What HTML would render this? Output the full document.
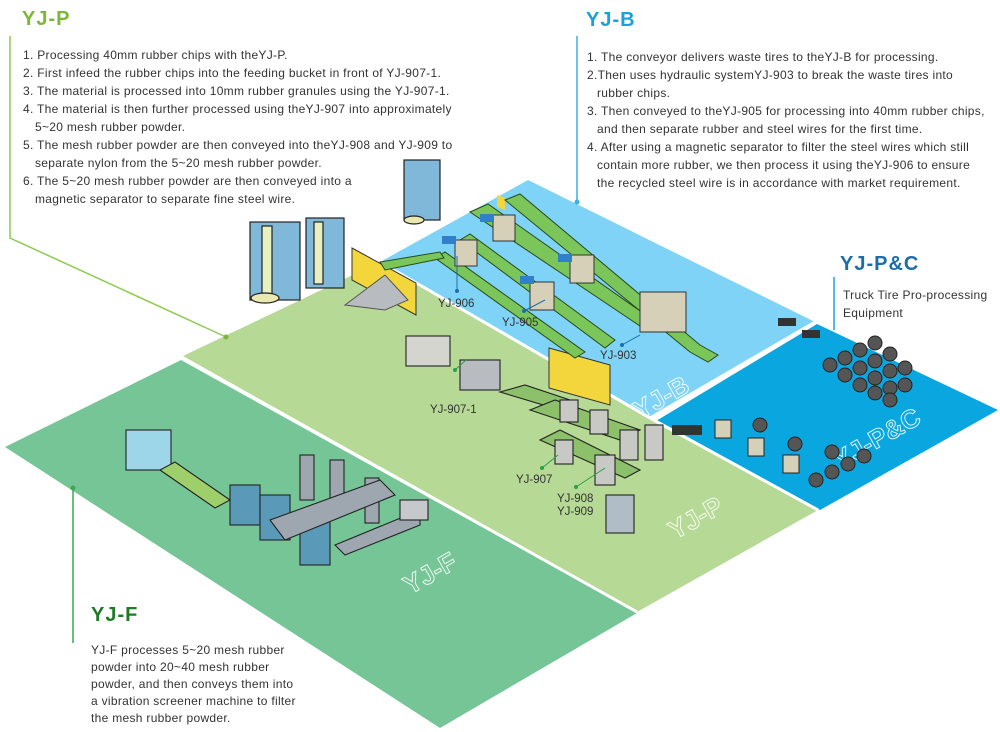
<!DOCTYPE html>
<html><head><meta charset="utf-8"><style>
html,body{margin:0;padding:0;background:#fff;}
svg{display:block;}
.t{font-family:"Liberation Sans",sans-serif;font-size:12px;letter-spacing:0.3px;fill:#333;}
.lb{font-family:"Liberation Sans",sans-serif;font-size:11.5px;fill:#333;}
.h{font-family:"Liberation Sans",sans-serif;font-weight:bold;font-size:20px;letter-spacing:1px;}
.wm{font-family:"Liberation Sans",sans-serif;font-weight:bold;font-size:26px;fill:none;stroke:#fff;stroke-width:1;opacity:.85;}
</style></head><body>
<svg width="1000" height="732" viewBox="0 0 1000 732" xmlns="http://www.w3.org/2000/svg">
<!-- regions -->
<polygon points="5,447 181,360 637,613 440,728" fill="#76c596"/>
<polygon points="183,356 380,262 650,418 818,510 637,612" fill="#b6d995"/>
<polygon points="380,262 528,180 815,322 650,418" fill="#7fd3f6"/>
<polygon points="656,421 817,324 998,410 820,510" fill="#0aa6e0"/>
<polyline points="183,358 637,612" stroke="#fff" stroke-width="3" fill="none"/>
<polyline points="650,418 818,510" stroke="#fff" stroke-width="3" fill="none"/>
<polyline points="380,262 650,418 815,322" stroke="#fff" stroke-width="3" fill="none"/>

<!-- watermarks -->
<text class="wm" transform="translate(640,420) rotate(-30)">YJ-B</text>
<text class="wm" transform="translate(840,470) rotate(-30)">YJ-P&amp;C</text>
<text class="wm" transform="translate(675,540) rotate(-30)">YJ-P</text>
<text class="wm" transform="translate(410,595) rotate(-30)">YJ-F</text>

<!-- connector lines -->
<g fill="none" stroke-width="1.5">
<polyline points="10,36 10,238 226,337" stroke="#8ccb4e"/>
<polyline points="577,36 577,202" stroke="#3bb0e6"/>
<polyline points="834,277 834,330" stroke="#1aa3e0"/>
<polyline points="73,486 73,643" stroke="#3aaa52"/>
</g>
<circle cx="226" cy="337" r="2.5" fill="#7ab836"/>
<circle cx="577" cy="202" r="2.5" fill="#3bb0e6"/>
<circle cx="73" cy="488" r="2.5" fill="#3aaa52"/>

<!-- YJ-P plant left (dust collectors) -->
<g stroke="#222" stroke-width="1.2">
<rect x="250" y="222" width="50" height="78" fill="#7fb8d8"/>
<rect x="306" y="218" width="38" height="70" fill="#7fb8d8"/>
<rect x="404" y="160" width="36" height="60" fill="#7fb8d8"/>
<rect x="262" y="226" width="10" height="70" fill="#e8f0c0"/>
<rect x="314" y="222" width="9" height="62" fill="#e8f0c0"/>
<ellipse cx="265" cy="298" rx="14" ry="5" fill="#e8e8b0"/>
<ellipse cx="414" cy="220" rx="10" ry="4" fill="#e8e8b0"/>
</g>
<!-- yellow walls & cone -->
<polygon points="352,248 416,283 416,315 352,280" fill="#f2d63c" stroke="#333"/>
<polygon points="345,305 385,275 408,300 385,310" fill="#b8bcc0" stroke="#555"/>
<polygon points="549,348 610,365 610,405 549,388" fill="#f2d63c" stroke="#333"/>
<polygon points="497,195 505,198 505,210 497,207" fill="#f2d63c"/>
<!-- YJ-B conveyors -->
<g stroke="#2a4a1a" stroke-width="1">
<polygon points="505,200 520,194 700,345 718,355 708,362 690,352" fill="#7bc65a"/>
<polygon points="460,240 470,234 615,340 605,348" fill="#7bc65a"/>
<polygon points="435,258 445,252 585,352 575,358" fill="#7bc65a"/>
<polygon points="470,212 488,204 650,318 640,326" fill="#7bc65a"/>
<polygon points="380,262 440,252 444,258 385,270" fill="#7bc65a"/>
</g>
<g stroke="#333" stroke-width="1" fill="#d6d0b8">
<rect x="455" y="240" width="22" height="26"/>
<rect x="493" y="215" width="22" height="26"/>
<rect x="530" y="282" width="24" height="28"/>
<rect x="570" y="255" width="24" height="28"/>
<rect x="640" y="292" width="46" height="40"/>
</g>
<g fill="#2f7fcc"><rect x="442" y="236" width="14" height="8"/><rect x="480" y="214" width="14" height="8"/><rect x="520" y="276" width="14" height="8"/><rect x="558" y="254" width="14" height="8"/></g>

<!-- YJ-P machinery -->
<g stroke="#222" stroke-width="1.1">
<rect x="406" y="336" width="44" height="30" fill="#d5d5d0"/>
<rect x="460" y="360" width="40" height="30" fill="#b8bcc0"/>
<polygon points="500,392 525,385 570,400 560,410" fill="#8cc06a"/>
<polygon points="530,410 555,400 640,430 620,440" fill="#8cc06a"/>
<polygon points="540,440 560,430 640,470 625,478" fill="#8cc06a"/>
<rect x="560" y="400" width="18" height="22" fill="#c8c8c4"/>
<rect x="590" y="410" width="18" height="24" fill="#c8c8c4"/>
<rect x="555" y="440" width="18" height="24" fill="#c8c8c4"/>
<rect x="620" y="430" width="18" height="30" fill="#c8c8c4"/>
<rect x="645" y="425" width="18" height="35" fill="#c8c8c4"/>
<rect x="595" y="455" width="20" height="30" fill="#c8c8c4"/>
<rect x="606" y="495" width="28" height="38" fill="#b0bcc6"/>
</g>

<!-- YJ-F machinery -->
<g stroke="#222" stroke-width="1.1">
<rect x="126" y="430" width="45" height="40" fill="#9cd6e8"/>
<polygon points="160,470 175,462 230,500 215,508" fill="#9fcf6a"/>
<rect x="230" y="485" width="30" height="40" fill="#5a9ab8"/>
<rect x="260" y="495" width="30" height="45" fill="#5a9ab8"/>
<rect x="300" y="520" width="30" height="45" fill="#5a9ab8"/>
<rect x="300" y="455" width="14" height="45" fill="#9ea6b0"/>
<rect x="330" y="460" width="14" height="45" fill="#9ea6b0"/>
<rect x="365" y="478" width="14" height="45" fill="#9ea6b0"/>
<polygon points="270,520 380,480 395,495 285,540" fill="#9ea6b0"/>
<polygon points="335,545 420,510 420,525 345,555" fill="#9ea6b0"/>
<rect x="400" y="500" width="28" height="20" fill="#c6c8cc"/>
</g>

<!-- P&C tires -->
<g fill="#555" stroke="#222" stroke-width="1">
<circle cx="830" cy="365" r="7"/><circle cx="845" cy="358" r="7"/><circle cx="860" cy="350" r="7"/><circle cx="875" cy="343" r="7"/>
<circle cx="845" cy="375" r="7"/><circle cx="860" cy="368" r="7"/><circle cx="875" cy="361" r="7"/><circle cx="890" cy="354" r="7"/><circle cx="905" cy="368" r="7"/>
<circle cx="860" cy="385" r="7"/><circle cx="875" cy="378" r="7"/><circle cx="890" cy="371" r="7"/><circle cx="905" cy="385" r="7"/>
<circle cx="875" cy="393" r="7"/><circle cx="890" cy="388" r="7"/><circle cx="890" cy="400" r="7"/>
<circle cx="816" cy="480" r="7"/><circle cx="832" cy="472" r="7"/><circle cx="848" cy="464" r="7"/><circle cx="864" cy="456" r="7"/>
<circle cx="760" cy="425" r="7"/><circle cx="795" cy="444" r="7"/><circle cx="832" cy="452" r="7"/>
</g>
<g fill="#d5d0b8" stroke="#222"><rect x="715" y="420" width="16" height="18"/><rect x="748" y="438" width="16" height="18"/><rect x="783" y="455" width="16" height="18"/></g>
<g fill="#333"><rect x="778" y="318" width="18" height="8"/><rect x="802" y="330" width="18" height="8"/><rect x="672" y="425" width="30" height="10"/></g>

<!-- machine labels -->
<g stroke-width="1" fill="none">
<line x1="457" y1="256" x2="457" y2="291" stroke="#1a6fb0"/>
<line x1="524" y1="311" x2="545" y2="300" stroke="#1a6fb0"/>
<line x1="622" y1="345" x2="640" y2="335" stroke="#1a6fb0"/>
<line x1="455" y1="370" x2="466" y2="360" stroke="#2aa04a"/>
<line x1="542" y1="468" x2="558" y2="455" stroke="#2aa04a"/>
<line x1="576" y1="487" x2="605" y2="468" stroke="#2aa04a"/>
</g>
<g><circle cx="457" cy="291" r="2" fill="#1a6fb0"/><circle cx="524" cy="311" r="2" fill="#1a6fb0"/><circle cx="622" cy="345" r="2" fill="#1a6fb0"/><circle cx="455" cy="370" r="2" fill="#2aa04a"/><circle cx="542" cy="468" r="2" fill="#2aa04a"/><circle cx="576" cy="487" r="2" fill="#2aa04a"/></g>
<text class="lb" x="438" y="307">YJ-906</text>
<text class="lb" x="502" y="326">YJ-905</text>
<text class="lb" x="600" y="359">YJ-903</text>
<text class="lb" x="430" y="413">YJ-907-1</text>
<text class="lb" x="516" y="483">YJ-907</text>
<text class="lb" x="557" y="502">YJ-908</text>
<text class="lb" x="557" y="515">YJ-909</text>

<!-- titles -->
<text class="h" x="22" y="25" fill="#7ab836">YJ-P</text>
<text class="h" x="586" y="26" fill="#1aa0dc">YJ-B</text>
<text class="h" x="840" y="270" fill="#1a6fa8">YJ-P&amp;C</text>
<text class="h" x="91" y="621" fill="#1f7a24">YJ-F</text>

<!-- YJ-P text -->
<g class="t">
<text x="23" y="59">1. Processing 40mm rubber chips with theYJ-P.</text>
<text x="23" y="77">2. First infeed the rubber chips into the feeding bucket in front of YJ-907-1.</text>
<text x="23" y="95">3. The material is processed into 10mm rubber granules using the YJ-907-1.</text>
<text x="23" y="113">4. The material is then further processed using theYJ-907 into approximately</text>
<text x="35" y="131">5~20 mesh rubber powder.</text>
<text x="23" y="149">5. The mesh rubber powder are then conveyed into theYJ-908 and YJ-909 to</text>
<text x="35" y="167">separate nylon from the 5~20 mesh rubber powder.</text>
<text x="23" y="185">6. The 5~20 mesh rubber powder are then conveyed into a</text>
<text x="35" y="203">magnetic separator to separate fine steel wire.</text>
</g>
<!-- YJ-B text -->
<g class="t">
<text x="587" y="61">1. The conveyor delivers waste tires to theYJ-B for processing.</text>
<text x="587" y="79">2.Then uses hydraulic systemYJ-903 to break the waste tires into</text>
<text x="597" y="97">rubber chips.</text>
<text x="587" y="115">3. Then conveyed to theYJ-905 for processing into 40mm rubber chips,</text>
<text x="597" y="133">and then separate rubber and steel wires for the first time.</text>
<text x="587" y="151">4. After using a magnetic separator to filter the steel wires which still</text>
<text x="597" y="169">contain more rubber, we then process it using theYJ-906 to ensure</text>
<text x="597" y="187">the recycled steel wire is in accordance with market requirement.</text>
</g>
<!-- P&C text -->
<g class="t">
<text x="843" y="299">Truck Tire Pro-processing</text>
<text x="843" y="317">Equipment</text>
</g>
<!-- YJ-F text -->
<g class="t">
<text x="91" y="654">YJ-F processes 5~20 mesh rubber</text>
<text x="91" y="671">powder into 20~40 mesh rubber</text>
<text x="91" y="688">powder, and then conveys them into</text>
<text x="91" y="705">a vibration screener machine to filter</text>
<text x="91" y="722">the mesh rubber powder.</text>
</g>
</svg>
</body></html>
